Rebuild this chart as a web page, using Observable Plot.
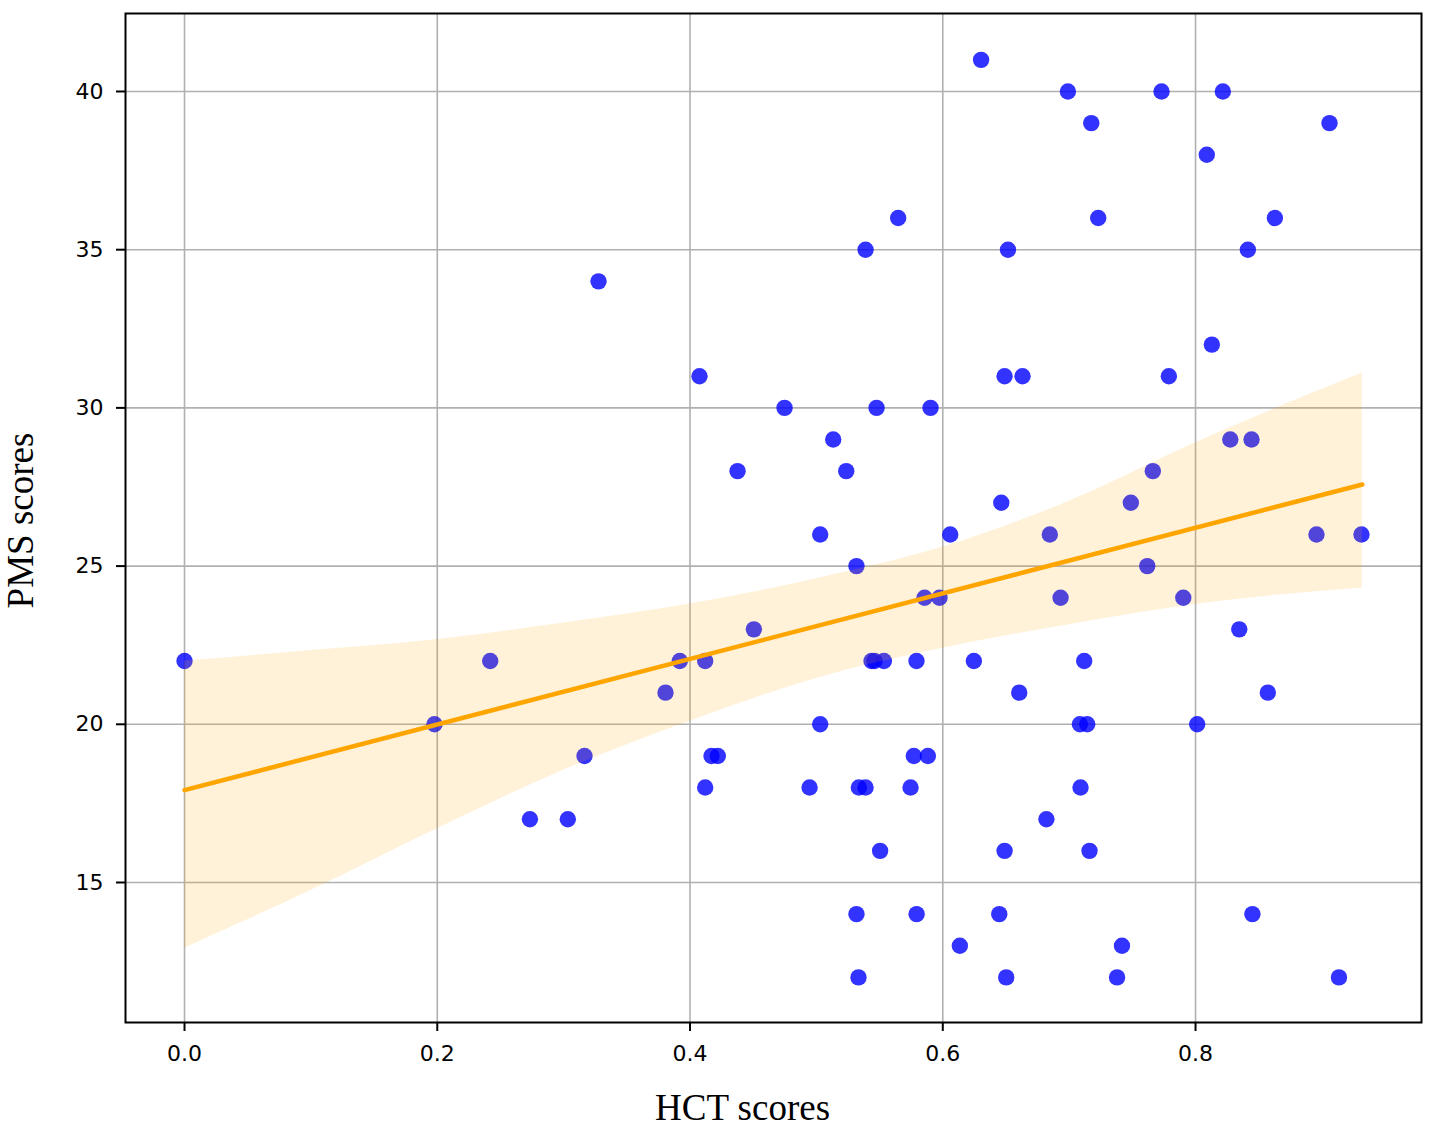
<!DOCTYPE html>
<html>
<head>
<meta charset="utf-8">
<script src="https://cdn.jsdelivr.net/npm/d3@7"></script>
<script src="https://cdn.jsdelivr.net/npm/@observablehq/plot@0.6"></script>
<style>
  body { margin: 0; background: #fff; }
</style>
</head>
<body>
<div id="chart"></div>
<script>
// HCT scores (x) and PMS scores (y)
const hct = [
  0.6303,
  0.699, 0.7731, 0.8216,
  0.7175, 0.906,
  0.8089,
  0.5647, 0.723, 0.8628,
  0.5389, 0.6516, 0.8414,
  0.3276,
  0.8129,
  0.4075, 0.6489, 0.6631, 0.7789,
  0.4748, 0.5476, 0.5903,
  0.5133, 0.8275, 0.8443,
  0.4376, 0.5236, 0.7662,
  0.6463, 0.7488,
  0.503, 0.6059, 0.6847, 0.8957, 0.9313,
  0.5317, 0.7618,
  0.5856, 0.5974, 0.6932, 0.7903,
  0.4505, 0.8346,
  0.0, 0.2419, 0.3919, 0.412, 0.5436, 0.546, 0.5534, 0.5792, 0.6246, 0.7119,
  0.3806, 0.6605, 0.8572,
  0.1978, 0.503, 0.7085, 0.7143, 0.8013,
  0.3165, 0.417, 0.422, 0.5771, 0.5882,
  0.412, 0.4946, 0.5336, 0.5389, 0.5745, 0.709,
  0.2733, 0.3033, 0.682,
  0.5504, 0.6489, 0.7161,
  0.5317, 0.5793, 0.6447, 0.845,
  0.6135, 0.7418,
  0.5333, 0.6502, 0.7379, 0.9135
];
const pms = [
  41,
  40, 40, 40,
  39, 39,
  38,
  36, 36, 36,
  35, 35, 35,
  34,
  32,
  31, 31, 31, 31,
  30, 30, 30,
  29, 29, 29,
  28, 28, 28,
  27, 27,
  26, 26, 26, 26, 26,
  25, 25,
  24, 24, 24, 24,
  23, 23,
  22, 22, 22, 22, 22, 22, 22, 22, 22, 22,
  21, 21, 21,
  20, 20, 20, 20, 20,
  19, 19, 19, 19, 19,
  18, 18, 18, 18, 18, 18,
  17, 17, 17,
  16, 16, 16,
  14, 14, 14, 14,
  13, 13,
  12, 12, 12, 12
];

// Regression line (ends) and its confidence band
const fitX = [0, 0.932];
const fitY = [17.92, 27.58];
const bandX  = [0,     0.1,   0.2,   0.3,   0.4,   0.5,   0.6,   0.7,   0.8,   0.932];
const bandLo = [12.92, 14.75, 16.7,  18.55, 20.1,  21.45, 22.4,  23.15, 23.79, 24.31];
const bandHi = [22.0,  22.33, 22.68, 23.2,  23.8,  24.6,  25.6,  27.05, 28.9,  31.1];

// Ticks and labels
const xTicks = [0, 0.2, 0.4, 0.6, 0.8];
const yTicks = [15, 20, 25, 30, 35, 40];
const xLabel = "HCT scores";
const yLabel = "PMS scores";

const points = hct.map((x, i) => ({x, y: pms[i]}));
const fit = fitX.map((x, i) => ({x, y: fitY[i]}));
const band = bandX.map((x, i) => ({x, lo: bandLo[i], hi: bandHi[i]}));

const chart = Plot.plot({
  width: 1430,
  height: 1128,
  marginLeft: 125,
  marginRight: 9,
  marginTop: 13,
  marginBottom: 106,
  x: {domain: [-0.0467, 0.9788], label: null},
  y: {domain: [10.575, 42.465], label: null},
  style: {fontFamily: "DejaVu Sans", fontSize: "22px", background: "white", color: "black"},
  marks: [
    Plot.gridX(xTicks, {stroke: "#b0b0b0", strokeOpacity: 1, strokeWidth: 1.6}),
    Plot.gridY(yTicks, {stroke: "#b0b0b0", strokeOpacity: 1, strokeWidth: 1.6}),
    Plot.dot(points, {x: "x", y: "y", r: 8.2, fill: "blue", fillOpacity: 0.8}),
    Plot.areaY(band, {x: "x", y1: "lo", y2: "hi", fill: "orange", fillOpacity: 0.15, curve: "monotone-x"}),
    Plot.line(fit, {x: "x", y: "y", stroke: "orange", strokeWidth: 4.5}),
    Plot.frame({stroke: "black", strokeWidth: 2}),
    Plot.axisX(xTicks, {tickFormat: d => d.toFixed(1), tickSize: 9, tickPadding: 14, fontSize: 22, label: null, strokeWidth: 2}),
    Plot.axisY(yTicks, {tickSize: 9, tickPadding: 13, fontSize: 22, label: null, strokeWidth: 2}),
    Plot.text([xLabel], {text: d => d, frameAnchor: "bottom", textAnchor: "middle", dx: -31, dy: 97, fontFamily: "Liberation Serif", fontSize: 37, fill: "black"}),
    Plot.text([yLabel], {text: d => d, frameAnchor: "left", textAnchor: "middle", rotate: -90, dx: -104, dy: 2.5, fontFamily: "Liberation Serif", fontSize: 37, fill: "black"})
  ]
});
document.getElementById("chart").append(chart);
</script>
</body>
</html>
